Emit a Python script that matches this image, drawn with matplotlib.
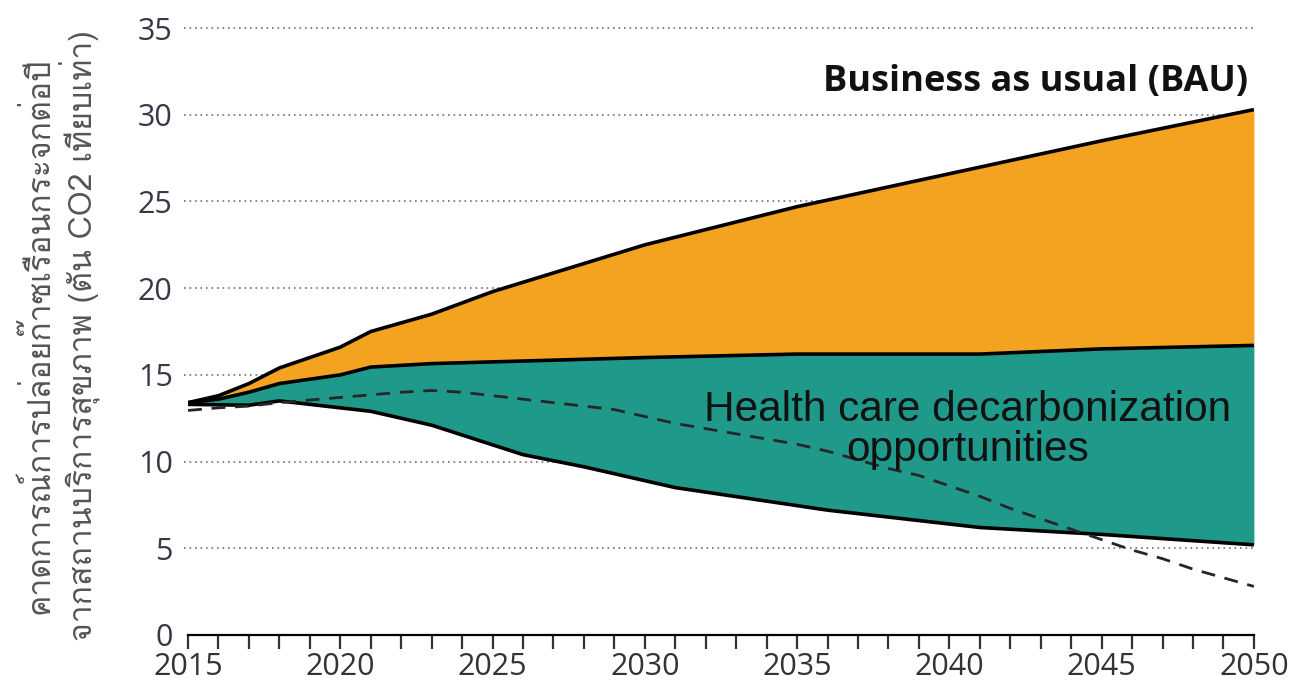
import matplotlib
matplotlib.use("Agg")
import matplotlib.pyplot as plt
import numpy as np
from matplotlib import font_manager
from matplotlib.ft2font import FT2Font

# Annual emissions by year
years = list(range(2015, 2051))
bau_years = [2015, 2016, 2017, 2018, 2019, 2020, 2021, 2022, 2023, 2025, 2030, 2035, 2040, 2045, 2050]
bau = [13.4, 13.8, 14.5, 15.4, 16.0, 16.6, 17.5, 18.0, 18.5, 19.8, 22.5, 24.7, 26.6, 28.5, 30.3]
mid_years = [2015, 2016, 2017, 2018, 2020, 2021, 2023, 2025, 2030, 2035, 2041, 2045, 2050]
mid = [13.4, 13.6, 14.0, 14.5, 15.0, 15.45, 15.65, 15.75, 16.0, 16.2, 16.2, 16.5, 16.7]
low_years = [2015, 2017, 2018, 2020, 2021, 2023, 2026, 2028, 2031, 2036, 2041, 2045, 2050]
low = [13.3, 13.25, 13.5, 13.1, 12.9, 12.1, 10.4, 9.7, 8.5, 7.2, 6.2, 5.8, 5.2]
trend = [12.95, 13.1, 13.2, 13.4, 13.55, 13.7, 13.85, 14.0, 14.1, 14.0, 13.8, 13.6,
         13.4, 13.2, 13.0, 12.6, 12.2, 11.9, 11.6, 11.3, 11.0, 10.6, 10.1, 9.6,
         9.2, 8.6, 8.0, 7.3, 6.7, 6.1, 5.5, 4.9, 4.4, 3.8, 3.3, 2.8]

ylabel_lines = ["คาดการณ์การปล่อยก๊าซเรือนกระจกต่อปี",
                "จากสถานบริการสุขภาพ (ตัน CO2 เทียบเท่า)"]
bau_label = "Business as usual (BAU)"
gap_label = "Health care decarbonization\nopportunities"

grid_x = np.array(years, dtype=float)
bau_i = np.interp(grid_x, bau_years, bau)
mid_i = np.interp(grid_x, mid_years, mid)
low_i = np.interp(grid_x, low_years, low)


def thai_family():
    for f in font_manager.fontManager.ttflist:
        try:
            cmap = FT2Font(f.fname).get_charmap()
        except Exception:
            continue
        if 0x0E04 in cmap and 0x0E01 in cmap:
            return f.name
    return "DejaVu Sans"


thai = thai_family()
base = "Open Sans"

fig = plt.figure(figsize=(12.94, 6.85), dpi=100)
ax = fig.add_axes([0.1453, 0.073, 0.8237, 0.886])

orange = "#F3A31F"
teal = "#1F9A8A"
ax.fill_between(grid_x, mid_i, bau_i, color=orange, lw=0, zorder=2)
ax.fill_between(grid_x, low_i, mid_i, color=teal, lw=0, zorder=2)
for series in (bau_i, mid_i, low_i):
    ax.plot(grid_x, series, color="black", lw=2.6, solid_joinstyle="round",
            solid_capstyle="butt", zorder=4)
ax.plot(years, trend, color="#262626", lw=2.0, ls=(0, (5, 3.5)), zorder=5)

ax.set_xlim(2015, 2050)
ax.set_ylim(0, 35)
ax.set_yticks(range(0, 36, 5))
ax.set_xticks(range(2015, 2051, 5))
ax.set_xticks(years, minor=True)
for y in range(5, 36, 5):
    ax.axhline(y, xmin=-0.004, xmax=1, color="#707070", lw=1.2, ls=(0, (1, 2.3)),
               zorder=1, clip_on=False)

for s in ("left", "right", "top"):
    ax.spines[s].set_visible(False)
ax.spines["bottom"].set_linewidth(1.6)
ax.tick_params(axis="x", which="both", direction="out", length=10, width=1.6,
               labelsize=22, colors="#333333", pad=2)
ax.tick_params(axis="y", length=0, labelsize=22, labelcolor="#383848", pad=11)
for lab in ax.get_xticklabels() + ax.get_yticklabels():
    lab.set_family(base)

ax.text(2049.8, 31.9, bau_label, ha="right", va="center", fontsize=26,
        fontweight="bold", family=base, color="#111111", zorder=6)
ax.text(2040.6, 11.8, gap_label, ha="center", va="center", fontsize=30.5,
        family="Liberation Sans", color="#111111", linespacing=1.0, zorder=6)

fig.text(0.030, 0.51, ylabel_lines[0], rotation=90, ha="center", va="center",
         fontsize=23, family=[thai, "DejaVu Sans"], color="#555555")
fig.text(0.0615, 0.51, ylabel_lines[1], rotation=90, ha="center", va="center",
         fontsize=23, family=[thai, "DejaVu Sans"], color="#555555")

fig.savefig("out.png", dpi=100)
